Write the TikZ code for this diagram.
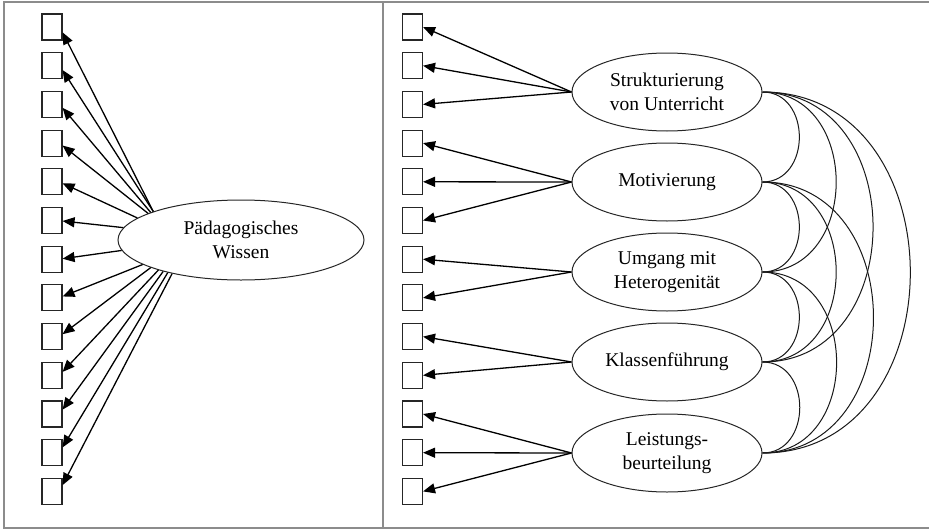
\documentclass[tikz,border=0pt]{standalone}
\usepackage{fontspec}
\setmainfont{Liberation Serif}
\usetikzlibrary{arrows.meta,calc,shapes.geometric}
\begin{document}
\begin{tikzpicture}[x=1pt,y=-1pt,
  ind/.style={draw=black!85,line width=1.1pt,minimum width=20pt,minimum height=26pt,inner sep=0pt},
  fac/.style={draw=black!85,line width=1pt,ellipse,inner sep=0pt,align=center,font=\fontsize{19.5}{23.5}\selectfont},
  arr/.style={line width=1.3pt,-{Triangle[length=12pt,width=10pt]}},
  cor/.style={line width=1pt,black!90},
  frame/.style={line width=1.8pt,draw=black!45}]
\useasboundingbox (0,0) rectangle (929,530);
% frame
\coordinate (tl) at (4,2);
\coordinate (tr) at (929,2);
\coordinate (bl) at (4,528);
\coordinate (br) at (929,528);
\coordinate (dt) at (383,2);
\coordinate (db) at (383,528);
\draw[frame] (tr) -- (tl) -- (bl) -- (br);
\draw[frame] (dt) -- (db);
% indicator boxes
\foreach \i in {1,...,13}{
  \node[ind] (L\i) at (52,{27+38.7*(\i-1)}) {};
  \node[ind] (R\i) at (412.5,{27+38.7*(\i-1)}) {};
}
% left factor
\node[fac,minimum width=246pt,minimum height=80pt] (P) at (241,240) {Pädagogisches\\Wissen};
\foreach \i/\a in {1/162,2/162.5,3/163,4/164.5,5/168,6/174,7/185,8/194,9/197,10/200.5,11/202,12/204,13/206}{
  \pgfmathsetmacro\off{(240-(27+38.7*(\i-1)))*0.025}
  \draw[arr] (P.\a) -- ($(L\i.east)+(0,\off)$);
}
% right factors
\node[fac,minimum width=190pt,minimum height=78pt] (F1) at (667,92) {Strukturierung\\von Unterricht};
\node[fac,minimum width=190pt,minimum height=78pt] (F2) at (667,182) {Motivierung};
\node[fac,minimum width=190pt,minimum height=78pt] (F3) at (667,272) {Umgang mit\\Heterogenität};
\node[fac,minimum width=190pt,minimum height=78pt] (F4) at (667,362) {Klassenführung};
\node[fac,minimum width=190pt,minimum height=78pt] (F5) at (667,453) {Leistungs-\\beurteilung};
\foreach \f/\b in {F1/1,F1/2,F1/3,F2/4,F2/5,F2/6,F3/7,F3/8,F4/9,F4/10,F5/11,F5/12,F5/13}{
  \draw[arr] (\f.west) -- (R\b.east);
}
% correlations
\foreach \i/\j in {1/2,1/3,1/4,1/5,2/3,2/4,2/5,3/4,3/5,4/5}{
  \draw[cor] (F\i.east) to[out=0,in=0,looseness=1.4] (F\j.east);
}
\end{tikzpicture}
\end{document}
